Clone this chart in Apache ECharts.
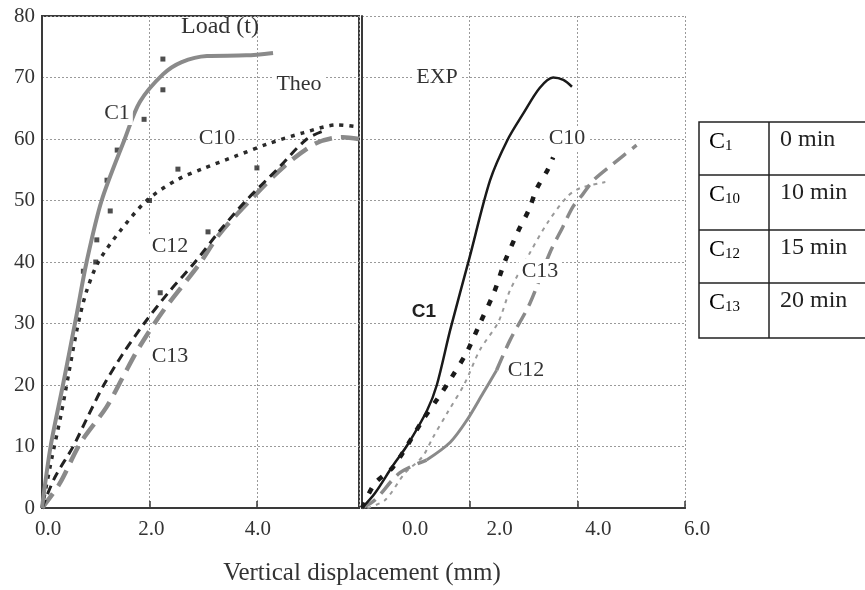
<!DOCTYPE html>
<html><head><meta charset="utf-8">
<script src="https://cdn.jsdelivr.net/npm/echarts@6/dist/echarts.min.js"></script>
<style>html,body{margin:0;padding:0;background:#fff}#c{width:865px;height:590px}</style>
</head><body><div id="c"></div>
<script>
// ---- data ----
const theoC1 = [[0,0],[0.16,10],[0.39,20],[0.65,31.7],[0.83,40],[1.11,50],[1.54,60],[1.82,66],[2.25,70.5],[2.6,72.5],[3.07,73.5],[3.8,73.6],[4.3,74]];
const theoC10 = [[0,0],[0.18,8],[0.35,15],[0.5,22],[0.65,29],[0.82,35],[1.05,40],[1.45,45],[1.95,50],[2.5,53.3],[3.0,55.2],[3.6,57.2],[4.2,59.2],[4.86,61],[5.5,62.3],[5.85,62]];
const theoC12 = [[0,0],[0.24,5],[0.58,10],[0.86,15],[1.15,20],[1.5,25],[1.9,30],[2.35,35],[2.85,40],[3.3,45],[3.8,50],[4.37,55],[4.93,60],[5.3,61.5]];
const theoC13 = [[0,0],[0.33,4],[0.71,10.5],[1.2,16.4],[1.5,21.2],[1.8,26],[2.25,32],[2.94,39.8],[3.3,44.5],[3.87,50],[4.5,55.5],[5.1,59.3],[5.6,60.3],[5.9,60]];
const theoPoints = [[2.25,73],[2.25,68],[1.9,63.2],[1.4,58.2],[1.21,53.3],[1.27,48.3],[1.02,43.6],[0.77,38.5],[1.0,40],[2.0,50],[2.53,55.1],[4.0,55.3],[3.09,44.9],[2.2,35]];

const expC1 = [[0,0],[0.24,2.4],[0.56,6.7],[0.84,10.2],[1.21,15.9],[1.39,20],[1.64,29],[2.0,40.8],[2.38,53.3],[2.7,59.8],[3.0,64.2],[3.3,68.3],[3.55,70],[3.74,69.6],[3.9,68.5]];
const expC10 = [[0,0],[0.24,4],[0.58,6.7],[1.13,14.3],[1.39,17.6],[1.67,21.3],[1.95,25.4],[2.19,30],[2.45,35],[2.65,40],[2.9,45],[3.1,48.5],[3.25,52],[3.45,55],[3.55,57]];
const expC12 = [[0,0],[0.24,1.3],[0.7,5.7],[1.2,7.8],[1.64,10.7],[1.95,14.3],[2.25,18.7],[2.5,22.4],[2.75,27.3],[3.12,33.3],[3.49,41.5],[3.73,45.7],[3.92,49],[4.1,51],[4.3,53.3],[4.67,56],[5.1,59]];
const expC13 = [[0.1,0],[0.43,1.3],[0.8,5.7],[1.12,8.3],[1.32,11.5],[1.58,15.4],[1.91,20.3],[2.19,25.7],[2.53,30.2],[2.75,35.4],[3.12,41.5],[3.44,46.3],[3.81,50.6],[4.05,52],[4.52,53]];

const xTicksLeft = ['0.0','2.0','4.0'];
const xTicksRight = ['0.0','2.0','4.0','6.0'];
const tableSpec = ['C','C','C','C'];
const tableSub = ['1','10','12','13'];
const tableTime = ['0 min','10 min','15 min','20 min'];

// ---- styling ----
const SERIF = 'Liberation Serif';
const TXT = '#333';
const GRIDC = '#9a9a9a';
const gridLine = {show:true, lineStyle:{color:GRIDC, type:[2,2], width:1}};

const c12Solid = expC12.slice(3, 8);
const c12Dashed = expC12.map((p, i) => (i > 3 && i < 7) ? [p[0], '-'] : p);

const chart = echarts.init(document.getElementById('c'));
const rightOffsets = [106, 60, 42, 24];
const richRight = {};
rightOffsets.forEach((o, i) => { richRight['r' + i] = {fontFamily: SERIF, fontSize: 21, color: TXT, padding: [0,0,0,o]}; });
const leftOffsets = [12, 4, 2];
const richLeft = {};
leftOffsets.forEach((o, i) => { richLeft['l' + i] = {fontFamily: SERIF, fontSize: 21, color: TXT, padding: [0,0,0,o]}; });

function lbl(text, x, y, extra) {
  return Object.assign({type:'text', x, y, z:100, style:{text, font:'22px "Liberation Serif"', fill:TXT, align:'center', verticalAlign:'middle', backgroundColor:'#fff', padding:[1,3]}}, extra || {});
}

const graphics = [
  lbl('Load (t)', 220, 27, {style:{text:'Load (t)', font:'24px "Liberation Serif"', fill:TXT, align:'center', verticalAlign:'middle'}}),
  lbl('Theo', 299, 84),
  lbl('EXP', 437, 77),
  lbl('C1', 117, 113),
  lbl('C10', 217, 138),
  lbl('C12', 170, 246),
  lbl('C13', 170, 356),
  lbl('C10', 567, 138),
  lbl('C13', 540, 271),
  lbl('C12', 526, 370),
  {type:'text', x:424, y:312, z:100, style:{text:'C1', font:'bold 19px "Liberation Sans"', fill:'#222', align:'center', verticalAlign:'middle', backgroundColor:'#fff', padding:[1,3]}},
  {type:'text', x:362, y:573, style:{text:'Vertical displacement (mm)', font:'25px "Liberation Serif"', fill:TXT, align:'center', verticalAlign:'middle'}}
];

// table
const tTop = 122, tRows = [0, 53, 108, 161, 216], tLeft = 699, tDiv = 769, tRight = 872;
graphics.push({type:'rect', shape:{x:tLeft, y:tTop, width:tRight - tLeft, height:tRows[4]}, style:{fill:'#fff', stroke:'#222', lineWidth:1.5}});
graphics.push({type:'line', shape:{x1:tDiv, y1:tTop, x2:tDiv, y2:tTop + tRows[4]}, style:{stroke:'#222', lineWidth:1.5}});
for (let i = 1; i < 4; i++) {
  graphics.push({type:'line', shape:{x1:tLeft, y1:tTop + tRows[i], x2:tRight, y2:tTop + tRows[i]}, style:{stroke:'#222', lineWidth:1.5}});
}
for (let i = 0; i < 4; i++) {
  const y = tTop + tRows[i] + 18;
  graphics.push({type:'text', x:709, y, style:{text:'{b|' + tableSpec[i] + '}{s|' + tableSub[i] + '}', align:'left', verticalAlign:'middle',
    rich:{b:{fontFamily:SERIF, fontSize:24, color:'#222', lineHeight:28, verticalAlign:'bottom'}, s:{fontFamily:SERIF, fontSize:15, color:'#222', lineHeight:28, verticalAlign:'bottom'}}}});
  graphics.push({type:'text', x:780, y, style:{text:tableTime[i], font:'24px "Liberation Serif"', fill:'#222', align:'left', verticalAlign:'middle'}});
}

const sm = {smooth:0.3, showSymbol:false};

const option = {
  animation: false,
  backgroundColor: '#fff',
  grid: [
    {left:42, top:16, width:317, height:492, show:true, borderColor:'#3a3a3a', borderWidth:2},
    {left:362, top:16, width:323, height:492, show:false}
  ],
  xAxis: [
    {type:'value', gridIndex:0, min:0, max:5.9, interval:2, splitLine:gridLine,
     axisLine:{show:true, lineStyle:{color:'#3a3a3a', width:2}},
     axisTick:{show:true, inside:true, length:7, lineStyle:{color:'#3a3a3a', width:1.5}},
     axisLabel:{showMaxLabel:false, margin:11, fontFamily:SERIF, fontSize:21, color:TXT, rich:richLeft,
       formatter:(v) => { const i = Math.round(v/2); return xTicksLeft[i] ? '{l' + i + '|' + xTicksLeft[i] + '}' : ''; }}},
    {type:'value', gridIndex:1, min:0, max:6, interval:2, splitLine:gridLine,
     axisLine:{show:true, lineStyle:{color:'#3a3a3a', width:2}},
     axisTick:{show:true, inside:true, length:7, lineStyle:{color:'#3a3a3a', width:1.5}},
     axisLabel:{margin:11, fontFamily:SERIF, fontSize:21, color:TXT, rich:richRight,
       formatter:(v) => { const i = Math.round(v/2); return '{r' + i + '|' + xTicksRight[i] + '}'; }}},
    {type:'value', gridIndex:1, position:'top', min:0, max:6, interval:2, splitLine:{show:false},
     axisLine:{show:true, lineStyle:{color:'#3a3a3a', width:2}}, axisTick:{show:false}, axisLabel:{show:false}}
  ],
  yAxis: [
    {type:'value', gridIndex:0, min:0, max:80, interval:10, splitLine:gridLine,
     axisLine:{show:true, lineStyle:{color:'#3a3a3a', width:2}}, axisTick:{show:false},
     axisLabel:{margin:7, fontFamily:SERIF, fontSize:21, color:TXT}},
    {type:'value', gridIndex:1, min:0, max:80, interval:10, splitLine:gridLine,
     axisLine:{show:true, lineStyle:{color:'#333', width:1.5, type:[2,2]}}, axisTick:{show:false}, axisLabel:{show:false}},
    {type:'value', gridIndex:1, position:'right', min:0, max:80, interval:10, splitLine:{show:false},
     axisLine:{show:true, lineStyle:{color:'#3a3a3a', width:2}}, axisTick:{show:false}, axisLabel:{show:false}}
  ],
  series: [
    Object.assign({name:'Theo C13', type:'line', xAxisIndex:0, yAxisIndex:0, data:theoC13, lineStyle:{color:'#8a8a8a', width:4.5, type:[18,9]}}, sm),
    Object.assign({name:'Theo C12', type:'line', xAxisIndex:0, yAxisIndex:0, data:theoC12, lineStyle:{color:'#222', width:3, type:[9,6]}}, sm),
    Object.assign({name:'Theo C10', type:'line', xAxisIndex:0, yAxisIndex:0, data:theoC10, lineStyle:{color:'#2a2a2a', width:3.5, type:[4,6]}}, sm),
    Object.assign({name:'Theo C1', type:'line', xAxisIndex:0, yAxisIndex:0, data:theoC1, lineStyle:{color:'#8a8a8a', width:4}}, sm),
    {name:'Theo pts', type:'scatter', xAxisIndex:0, yAxisIndex:0, data:theoPoints, symbol:'rect', symbolSize:5, itemStyle:{color:'#222'}},
    Object.assign({name:'Exp C13', type:'line', xAxisIndex:1, yAxisIndex:1, data:expC13, lineStyle:{color:'#9a9a9a', width:2, type:[4,5]}}, sm),
    Object.assign({name:'Exp C12 dash', type:'line', xAxisIndex:1, yAxisIndex:1, data:c12Dashed, connectNulls:false, lineStyle:{color:'#8a8a8a', width:3.5, type:[16,8]}}, sm),
    Object.assign({name:'Exp C12', type:'line', xAxisIndex:1, yAxisIndex:1, data:c12Solid, lineStyle:{color:'#8a8a8a', width:3}}, sm),
    Object.assign({name:'Exp C10', type:'line', xAxisIndex:1, yAxisIndex:1, data:expC10, lineStyle:{color:'#1a1a1a', width:4.5, type:[6,10]}}, sm),
    Object.assign({name:'Exp C1', type:'line', xAxisIndex:1, yAxisIndex:1, data:expC1, lineStyle:{color:'#1a1a1a', width:2.5}}, sm)
  ],
  graphic: graphics
};
chart.setOption(option);
</script>
</body></html>
